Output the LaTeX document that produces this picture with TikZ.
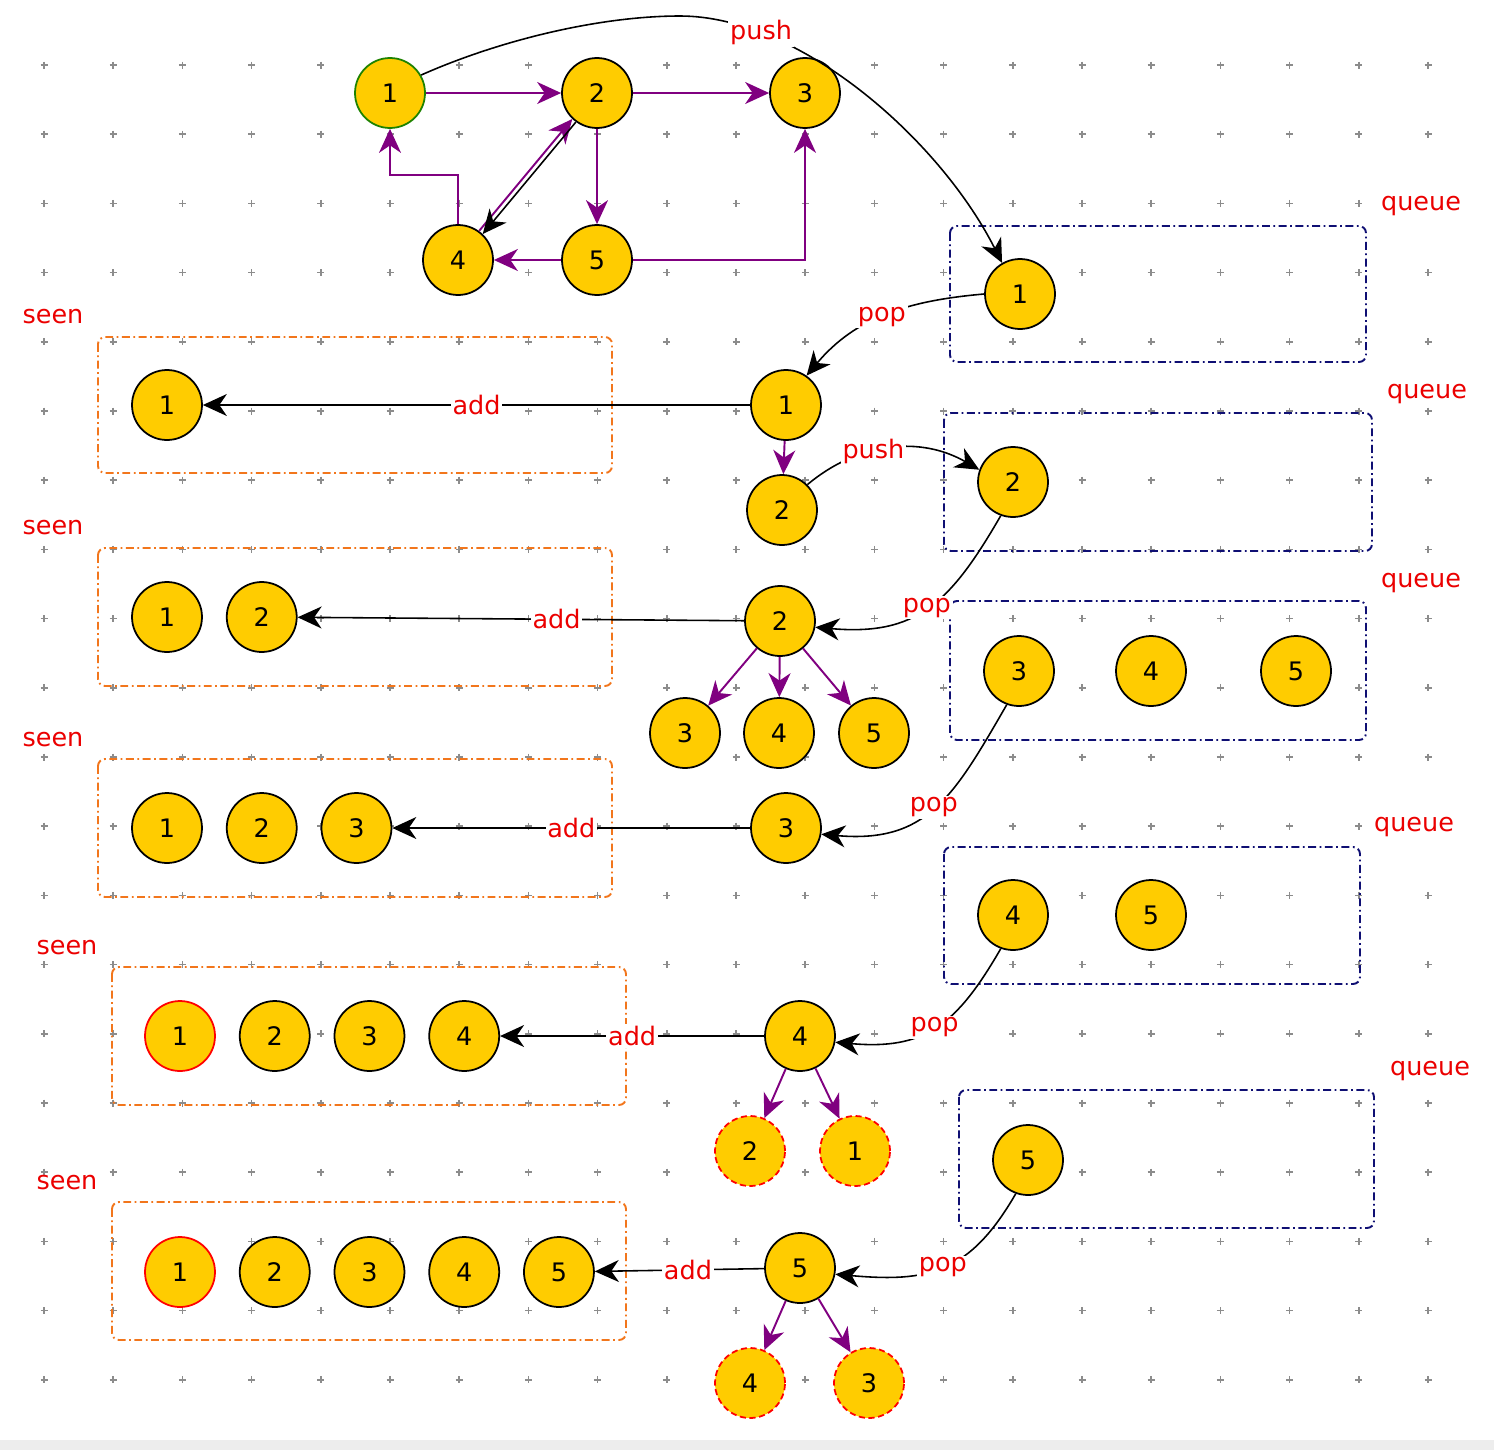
\documentclass[tikz,border=0pt]{standalone}
\usepackage{fontspec}
\setmainfont{DejaVu Sans}
\usetikzlibrary{positioning, arrows.meta}
\definecolor{gold}{RGB}{255,204,0}
\definecolor{edgepurple}{RGB}{128,0,128}
\definecolor{qnavy}{RGB}{15,15,115}
\definecolor{sorange}{RGB}{242,118,28}
\definecolor{tagred}{RGB}{235,0,0}
\definecolor{okgreen}{RGB}{30,130,0}

\begin{document}
\begin{tikzpicture}[x=0.02cm, y=-0.02cm, font=\fontsize{14.5}{17}\selectfont,
  >={Stealth[length=4.8mm, width=4.4mm, inset=1.5mm]},
  nd/.style={circle, draw, fill=gold, line width=1pt, minimum size=1.4cm, inner sep=0pt},
  first/.style={nd, draw=okgreen},
  done/.style={nd, draw=red},
  again/.style={nd, draw=red, dash pattern=on 3.5pt off 2pt},
  tag/.style={text=tagred, inner sep=1pt},
  qtag/.style={tag, fill=white},
  lbl/.style={tag, fill=white},
  qbox/.style={draw=qnavy, line width=1.1pt, rounded corners=4pt,
               dash pattern=on 4.5pt off 2pt on 1pt off 2pt},
  sbox/.style={qbox, draw=sorange},
  pe/.style={->, draw=edgepurple, line width=1.1pt},
  bk/.style={->, draw=black, line width=0.9pt},
  popc/.style={bk, out=-120, in=-5, looseness=1.2},
  dot/.style={draw=black!45, line width=1pt}]
\useasboundingbox (0,0) rectangle (1494,1450);
% Background grid.
\foreach \i in {0,...,20}
  \foreach \j in {0,...,19}
    \draw[dot] ({44+69.2*\i-3.5},{65+69.2*\j}) -- ++(7,0) ++(-3.5,-3.5) -- ++(0,7);
\fill[black!7] (0,1440) rectangle (1494,1450);
% Input graph.
\node[first] (g1) at (390,93) {1};
\node[nd] (g2) at (597,93) {2};
\node[nd] (g3) at (805,93) {3};
\node[nd] (g4) at (458,260) {4};
\node[nd] (g5) at (597,260) {5};
\draw[pe] (g1)--(g2); \draw[pe] (g2)--(g3); \draw[pe] (g2)--(g5); \draw[pe] (g5)--(g4);
\draw[pe] (g5.east) -| (g3.south);
\draw[pe] (g4.north) -- ++(0,-49) -| (g1.south);
\draw[pe, transform canvas={xshift=-1pt, yshift=0.9pt}] (g4)--(g2);
\draw[bk, transform canvas={xshift=1pt, yshift=-0.9pt}] (g2)--(g4);
% Queue states (right).
\draw[qbox] (950,226) rectangle (1366,362);
\draw[qbox] (944,413) rectangle (1372,551);
\draw[qbox] (950,601) rectangle (1366,740);
\draw[qbox] (944,847) rectangle (1360,984);
\draw[qbox] (959,1090) rectangle (1374,1228);
\node[qtag] (qt1) at (1421,206) {queue};
\node[qtag] (qt2) at (1427,394) {queue};
\node[qtag] (qt3) at (1421,583) {queue};
\node[qtag] (qt4) at (1414,827) {queue};
\node[qtag] (qt5) at (1430,1071) {queue};
\node[nd] (qa1) at (1020,294) {1};
\node[nd] (qa2) at (1013,482) {2};
\node[nd] (qa3) at (1019,671) {3};
\node[nd] (qb3) at (1151,671) {4};
\node[nd] (qc3) at (1296,671) {5};
\node[nd] (qa4) at (1013,915) {4};
\node[nd] (qb4) at (1151,915) {5};
\node[nd] (qa5) at (1028,1160) {5};
% Seen sets (left).
\draw[sbox] (98,337) rectangle (612,473);
\draw[sbox] (98,548) rectangle (612,686);
\draw[sbox] (98,759) rectangle (612,897);
\draw[sbox] (112,967) rectangle (626,1105);
\draw[sbox] (112,1202) rectangle (626,1340);
\node[tag] (st1) at (53,317) {seen};
\node[tag] (st2) at (53,528) {seen};
\node[tag] (st3) at (53,740) {seen};
\node[tag] (st4) at (67,948) {seen};
\node[tag] (st5) at (67,1183) {seen};
\node[nd] (s1a) at (167,405) {1};
\node[nd] (s2a) at (167,617) {1};
\node[nd,right=4.6mm of s2a] (s2b) {2};
\node[nd] (s3a) at (167,828) {1};
\node[nd,right=4.6mm of s3a] (s3b) {2};
\node[nd,right=4.6mm of s3b] (s3c) {3};
\node[done] (s4a) at (180,1036) {1};
\node[nd,right=4.6mm of s4a] (s4b) {2};
\node[nd,right=4.6mm of s4b] (s4c) {3};
\node[nd,right=4.6mm of s4c] (s4d) {4};
\node[done] (s5a) at (180,1272) {1};
\node[nd,right=4.6mm of s5a] (s5b) {2};
\node[nd,right=4.6mm of s5b] (s5c) {3};
\node[nd,right=4.6mm of s5c] (s5d) {4};
\node[nd,right=4.6mm of s5d] (s5e) {5};
% Popped node and its neighbours (centre).
\node[nd] (m1) at (786,405) {1};
\node[nd] (m1c) at (782,510) {2};
\node[nd] (m2) at (780,621) {2};
\node[nd] (m2a) at (685,733) {3};
\node[nd] (m2b) at (779,733) {4};
\node[nd] (m2c) at (874,733) {5};
\node[nd] (m3) at (786,828) {3};
\node[nd] (m4) at (800,1036) {4};
\node[again] (m4a) at (750,1151) {2};
\node[again] (m4b) at (855,1151) {1};
\node[nd] (m5) at (800,1268) {5};
\node[again] (m5a) at (750,1383) {4};
\node[again] (m5b) at (869,1383) {3};
\draw[pe] (m1)--(m1c);
\draw[pe] (m2)--(m2a); \draw[pe] (m2)--(m2b); \draw[pe] (m2)--(m2c);
\draw[pe] (m4)--(m4a); \draw[pe] (m4)--(m4b);
\draw[pe] (m5)--(m5a); \draw[pe] (m5)--(m5b);
% add: popped node goes into seen.
\draw[bk] (m1)--(s1a) node[lbl, midway]{add};
\draw[bk] (m2)--(s2b) node[lbl, pos=.42]{add};
\draw[bk] (m3)--(s3c) node[lbl, midway]{add};
\draw[bk] (m4)--(s4d) node[lbl, midway]{add};
\draw[bk] (m5)--(s5e) node[lbl, pos=.45]{add};
% push / pop between queue and centre.
\draw[bk] (g1.30) .. controls (500,40) and (600,16) .. (680,16)
  .. controls (800,16) and (940,140) .. (qa1.120) node[lbl, pos=.22]{push};
\draw[bk] (m1c.45) to[out=40, in=150] node[lbl, pos=.4]{push} (qa2.160);
\draw[bk] (qa1.west) to[out=185, in=50] node[lbl, pos=.52]{pop} (m1.55);
\draw[popc] (qa2.250) to node[lbl, pos=.5]{pop} (m2.-10);
\draw[popc] (qa3.250) to node[lbl, pos=.5]{pop} (m3.-10);
\draw[popc] (qa4.250) to node[lbl, pos=.5]{pop} (m4.-10);
\draw[popc] (qa5.250) to node[lbl, pos=.5]{pop} (m5.-10);
\end{tikzpicture}
\end{document}
